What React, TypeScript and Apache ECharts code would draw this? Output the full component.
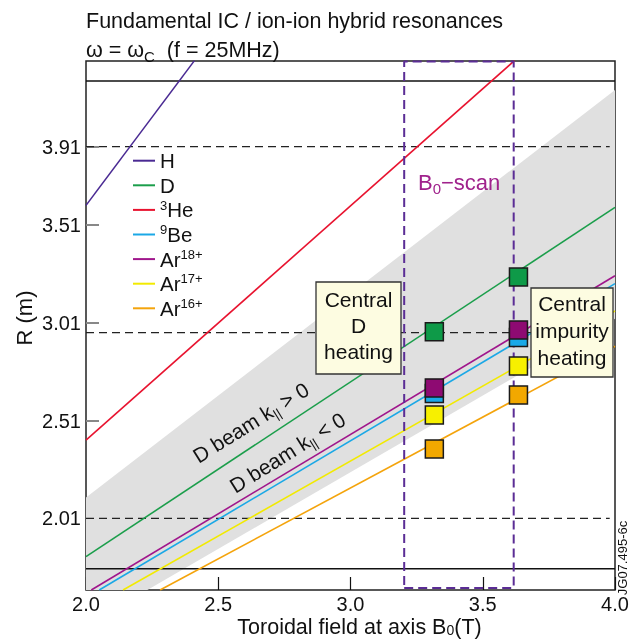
import React, { useEffect, useRef } from 'react';
import * as echarts from 'echarts';

// ---- axes ----
const xRange = [2.0, 4.0];
const yRange = [1.644, 4.348];
const xInterval = 0.5;
const yTickValues = [2.01, 2.51, 3.01, 3.51, 3.91];

// ---- resonance lines (read endpoints, B0 [T] vs R [m]) ----
const speciesNames = ['H', 'D', '3He', '9Be', 'Ar18+', 'Ar17+', 'Ar16+'];
const speciesLabels = ['H', 'D', '{sup|3}He', '{sup|9}Be', 'Ar{sup|18+}', 'Ar{sup|17+}', 'Ar{sup|16+}'];
const speciesColors = ['#4a2a93', '#1b9e4b', '#e8132f', '#1ba8e6', '#a0168c', '#f2ea00', '#f4a40c'];
const lineH = [[2.0, 3.61], [2.41, 4.35]];
const lineD = [[2.0, 1.815], [4.0, 3.6]];
const lineHe3 = [[2.0, 2.41], [3.62, 4.35]];
const lineBe9 = [[2.05, 1.644], [4.0, 3.21]];
const lineAr18 = [[2.02, 1.644], [4.0, 3.25]];
const lineAr17 = [[2.14, 1.644], [4.0, 3.07]];
const lineAr16 = [[2.28, 1.644], [4.0, 2.89]];
const speciesLines = [lineH, lineD, lineHe3, lineBe9, lineAr18, lineAr17, lineAr16];

// ---- D beam band (gray) ----
const bandPolygon = [[2.0, 1.644], [2.0, 2.117], [4.0, 4.2], [4.0, 3.03], [2.232, 1.644]];

// ---- reference radii ----
const wallR = [1.752, 4.246];
const plasmaR = [2.01, 2.96, 3.91];
const plasmaLineEndB = 3.98;

// ---- B0 scan box ----
const scanB = [3.203, 3.617];
const scanR = [1.654, 4.345];

// ---- squares (two scan points) ----
const squareB = [3.317, 3.635];
const squareD = [2.964, 3.244];
const squareBe9 = [2.648, 2.935];
const squareAr18 = [2.677, 2.973];
const squareAr17 = [2.539, 2.789];
const squareAr16 = [2.365, 2.641];
const squareSets = [
  { vals: squareD, color: '#0e9a48' },
  { vals: squareBe9, color: '#1aa9e8' },
  { vals: squareAr18, color: '#8e0a72' },
  { vals: squareAr17, color: '#f7f000' },
  { vals: squareAr16, color: '#f2a800' },
];

const FONT = 'Liberation Sans, Arial, Helvetica, sans-serif';

export default function App() {
  const ref = useRef<HTMLDivElement>(null);
  useEffect(() => {
    if (!ref.current) return;
    const chart = echarts.init(ref.current, undefined, { renderer: 'svg' });
    const series: any[] = [];

    series.push({
      type: 'custom',
      silent: true,
      z: 1,
      clip: true,
      data: [bandPolygon[0]],
      renderItem: (_p: any, api: any) => ({
        type: 'polygon',
        shape: { points: bandPolygon.map((p) => api.coord(p)) },
        style: { fill: '#e0e0e0' },
      }),
    });

    wallR.forEach((r) =>
      series.push({
        type: 'line', silent: true, symbol: 'none', z: 2,
        data: [[xRange[0], r], [xRange[1], r]],
        lineStyle: { color: '#111', width: 1.5 },
      })
    );
    plasmaR.forEach((r) =>
      series.push({
        type: 'line', silent: true, symbol: 'none', z: 2,
        data: [[xRange[0], r], [plasmaLineEndB, r]],
        lineStyle: { color: '#222', width: 1.2, type: [8, 5] },
      })
    );

    speciesNames.forEach((n, i) =>
      series.push({
        name: n, type: 'line', silent: true, symbol: 'none', showSymbol: false, z: 3, clip: true,
        data: speciesLines[i],
        lineStyle: { color: speciesColors[i], width: 1.6 },
        itemStyle: { color: speciesColors[i] },
      })
    );

    series.push({
      type: 'line', silent: true, symbol: 'none', z: 4,
      data: [[scanB[0], scanR[0]], [scanB[1], scanR[0]], [scanB[1], scanR[1]], [scanB[0], scanR[1]], [scanB[0], scanR[0]]],
      lineStyle: { color: '#5b2d95', width: 2, type: [9, 5] },
    });

    squareSets.forEach((s) =>
      series.push({
        type: 'scatter', silent: true, z: 5, symbol: 'rect', symbolSize: 18,
        data: squareB.map((b, k) => [b, s.vals[k]]),
        itemStyle: { color: s.color, borderColor: '#1a1a1a', borderWidth: 1.5, opacity: 1 },
      })
    );

    const subRich = { fontSize: 14, verticalAlign: 'bottom', height: 11 };

    const option: any = {
      animation: false,
      textStyle: { fontFamily: FONT },
      grid: {
        left: 86, right: 15, top: 61, bottom: 49, show: true, borderColor: '#222', borderWidth: 1.5,
        backgroundColor: 'transparent', containLabel: false, outerBoundsMode: 'none',
      },
      legend: {
        data: speciesNames,
        orient: 'vertical',
        left: 133,
        top: 148.4,
        padding: 0,
        itemGap: 0,
        icon: 'rect',
        itemWidth: 22,
        itemHeight: 2,
        selectedMode: false,
        formatter: (name: string) => speciesLabels[speciesNames.indexOf(name)],
        textStyle: {
          fontSize: 20.5, color: '#111', lineHeight: 24.6, fontFamily: FONT,
          rich: { sup: { fontSize: 13, verticalAlign: 'top', height: 15, fontFamily: FONT } },
        },
      },
      xAxis: {
        type: 'value', min: xRange[0], max: xRange[1], interval: xInterval,
        axisLine: { show: false },
        axisTick: { inside: true, length: 13, lineStyle: { color: '#111', width: 1.2 } },
        axisLabel: { fontSize: 20, color: '#111', margin: 4, lineHeight: 20, formatter: (v: number) => v.toFixed(1) },
        splitLine: { show: false },
        name: 'Toroidal field at axis B{sub|0}(T)',
        nameLocation: 'middle',
        nameGap: 27,
        nameMoveOverlap: false,
        nameTextStyle: { fontSize: 21.5, color: '#111', lineHeight: 19, padding: [0, 0, 0, 18], rich: { sub: { fontSize: 14, verticalAlign: 'bottom', height: 12 } } },
      },
      yAxis: {
        type: 'value', min: yRange[0], max: yRange[1],
        axisLine: { show: false },
        axisTick: { inside: true, length: 13, lineStyle: { color: '#888', width: 2 }, customValues: yTickValues },
        axisLabel: { fontSize: 20, color: '#111', margin: 5, customValues: yTickValues, formatter: (v: number) => v.toFixed(2) },
        splitLine: { show: false },
        name: 'R (m)',
        nameLocation: 'middle',
        nameGap: 51,
        nameRotate: 90,
        nameMoveOverlap: false,
        nameTextStyle: { fontSize: 22, color: '#111', padding: [0, 0, 0, 15] },
      },
      series,
      graphic: [
        {
          type: 'text', x: 86, y: 21.3, z: 100,
          style: { text: 'Fundamental IC / ion-ion hybrid resonances', fontSize: 21.5, fontFamily: FONT, fill: '#111', verticalAlign: 'middle' },
        },
        {
          type: 'text', x: 86, y: 49.5, z: 100,
          style: {
            text: 'ω = ω{sub|C}  (f = 25MHz)', fontSize: 21.5, lineHeight: 24, fontFamily: FONT, fill: '#111', verticalAlign: 'middle',
            rich: { sub: { ...subRich, fontSize: 15, fontFamily: FONT, fill: '#111' } },
          },
        },
        {
          type: 'text', x: 418, y: 182, z: 100,
          style: {
            text: 'B{sub|0}−scan', fontSize: 22, lineHeight: 24, fontFamily: FONT, fill: '#a0228c', verticalAlign: 'middle',
            rich: { sub: { ...subRich, fontSize: 15, fontFamily: FONT, fill: '#a0228c' } },
          },
        },
        {
          type: 'text', x: 250.8, y: 422.5, z: 100, rotation: (32 * Math.PI) / 180,
          style: {
            text: 'D beam k{sub|||} > 0', fontSize: 21, lineHeight: 24, fontFamily: FONT, fill: '#111', align: 'center', verticalAlign: 'middle',
            rich: { sub: { ...subRich, fontSize: 13, fontFamily: FONT, fill: '#111' } },
          },
        },
        {
          type: 'text', x: 287.5, y: 452.5, z: 100, rotation: (32 * Math.PI) / 180,
          style: {
            text: 'D beam k{sub|||} < 0', fontSize: 21, lineHeight: 24, fontFamily: FONT, fill: '#111', align: 'center', verticalAlign: 'middle',
            rich: { sub: { ...subRich, fontSize: 13, fontFamily: FONT, fill: '#111' } },
          },
        },
        {
          type: 'rect', z: 100,
          shape: { x: 316, y: 282, width: 85, height: 92 },
          style: { fill: '#fdfce1', stroke: '#333', lineWidth: 1.3 },
        },
        {
          type: 'text', x: 358.5, y: 325.5, z: 101,
          style: { text: 'Central\nD\nheating', fontSize: 21, lineHeight: 25.7, fontFamily: FONT, fill: '#111', align: 'center', verticalAlign: 'middle' },
        },
        {
          type: 'rect', z: 100,
          shape: { x: 531, y: 288, width: 82, height: 89 },
          style: { fill: '#fdfce1', stroke: '#333', lineWidth: 1.3 },
        },
        {
          type: 'text', x: 572, y: 330, z: 101,
          style: { text: 'Central\nimpurity\nheating', fontSize: 21, lineHeight: 27, fontFamily: FONT, fill: '#111', align: 'center', verticalAlign: 'middle' },
        },
        {
          type: 'text', x: 622, y: 558, z: 100, rotation: Math.PI / 2,
          style: { text: 'JG07.495-6c', fontSize: 13, lineHeight: 14, fontFamily: FONT, fill: '#111', align: 'center', verticalAlign: 'middle' },
        },
      ],
    };
    chart.setOption(option);
    return () => chart.dispose();
  }, []);
  return <div ref={ref} style={{ position: 'fixed', left: 0, top: 0, width: 630, height: 639 }} />;
}
